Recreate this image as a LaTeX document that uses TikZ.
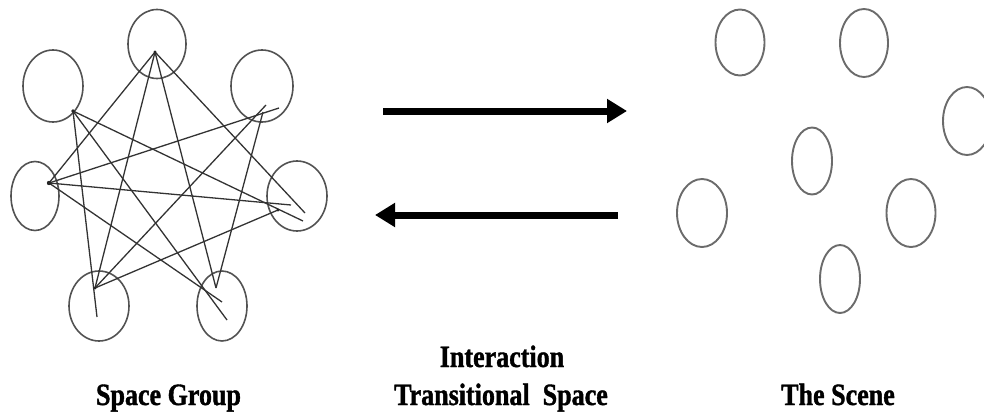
\documentclass[tikz,border=0pt]{standalone}
\usepackage{fontspec}
\setmainfont{Liberation Serif}
\newfontfamily\labfont{Liberation Serif}[FakeStretch=0.84,FakeBold=1.2]
\usetikzlibrary{shapes.geometric,arrows.meta}
\begin{document}
\begin{tikzpicture}[x=1pt,y=-1pt,
  lell/.style={ellipse,draw=black!68,line width=1.6pt,inner sep=0pt},
  rell/.style={ellipse,draw=black!58,line width=1.9pt,inner sep=0pt},
  link/.style={draw=black!80,line width=1.3pt},
  bigarrow/.style={line width=7pt,-{Triangle[length=20pt,width=23pt]}},
  lab/.style={font=\labfont\fontsize{31}{38}\selectfont\bfseries,anchor=base,inner sep=0pt}]
\useasboundingbox (0,0) rectangle (984,412);
% left ellipses
\node[lell,minimum width=58pt,minimum height=69pt] (eT)  at (157,44) {};
\node[lell,minimum width=60pt,minimum height=72pt] (eUL) at (53,86) {};
\node[lell,minimum width=62pt,minimum height=72pt] (eUR) at (262,86) {};
\node[lell,minimum width=48pt,minimum height=69pt] (eL)  at (35,196) {};
\node[lell,minimum width=60pt,minimum height=70pt] (eR)  at (297,196) {};
\node[lell,minimum width=60pt,minimum height=70pt] (eBL) at (99,306) {};
\node[lell,minimum width=50pt,minimum height=70pt] (eBR) at (222,306) {};
% hubs
\coordinate (hT)  at (155,52);
\coordinate (hUL) at (73,111);
\coordinate (hUR) at (263,112);
\coordinate (hUR1) at (279,108);
\coordinate (hUR2) at (266,105);
\coordinate (hL)  at (49,183);
\coordinate (hR)  at (278,210);
\coordinate (hR1) at (305,213);
\coordinate (hR2) at (303,221);
\coordinate (hR3) at (291,205);
\coordinate (hBL) at (95,288);
\coordinate (hBL1) at (97,317);
\coordinate (hBR) at (216,288);
\coordinate (hBR1) at (227,320);
\coordinate (hBR2) at (222,302);
% links
\draw[link] (hT) -- (hL);
\draw[link] (hT) -- (hBL);
\draw[link] (hT) -- (hBR);
\draw[link] (hT) -- (hR1);
\draw[link] (hUL) -- (hR2);
\draw[link] (hUL) -- (hBL1);
\draw[link] (hUL) -- (hBR1);
\draw[link] (hL) -- (hUR1);
\draw[link] (hBL) -- (hUR2);
\draw[link] (hUR) -- (hBR);
\draw[link] (hL) -- (hR3);
\draw[link] (hL) -- (hBR2);
\draw[link] (hBL) -- (hR);
\fill[black!85] (hL) circle (2.2pt) (hUL) circle (1.8pt) (hT) circle (1.6pt) (hBL) circle (1.6pt) (hR) circle (1.6pt);
% arrows
\coordinate (a1s) at (383,111);
\coordinate (a1e) at (627,111);
\coordinate (a2s) at (618,215);
\coordinate (a2e) at (375,215);
\draw[bigarrow] (a1s) -- (a1e);
\draw[bigarrow] (a2s) -- (a2e);
% right ellipses
\node[rell,minimum width=49pt,minimum height=66pt] (rA) at (740,42.5) {};
\node[rell,minimum width=48pt,minimum height=68pt] (rB) at (864,43) {};
\node[rell,minimum width=48pt,minimum height=68pt] (rC) at (967,121) {};
\node[rell,minimum width=40pt,minimum height=67pt] (rD) at (812,161) {};
\node[rell,minimum width=50pt,minimum height=68pt] (rE) at (702,213) {};
\node[rell,minimum width=49pt,minimum height=68pt] (rF) at (911,213) {};
\node[rell,minimum width=40pt,minimum height=68pt] (rG) at (840,279) {};
% labels
\node[lab] (l1) at (168.5,405) {Space Group};
\node[lab] (l2) at (502,367) {Interaction};
\node[lab] (l3) at (501,405) {Transitional\ \ Space};
\node[lab] (l4) at (838,405) {The Scene};
\end{tikzpicture}
\end{document}
